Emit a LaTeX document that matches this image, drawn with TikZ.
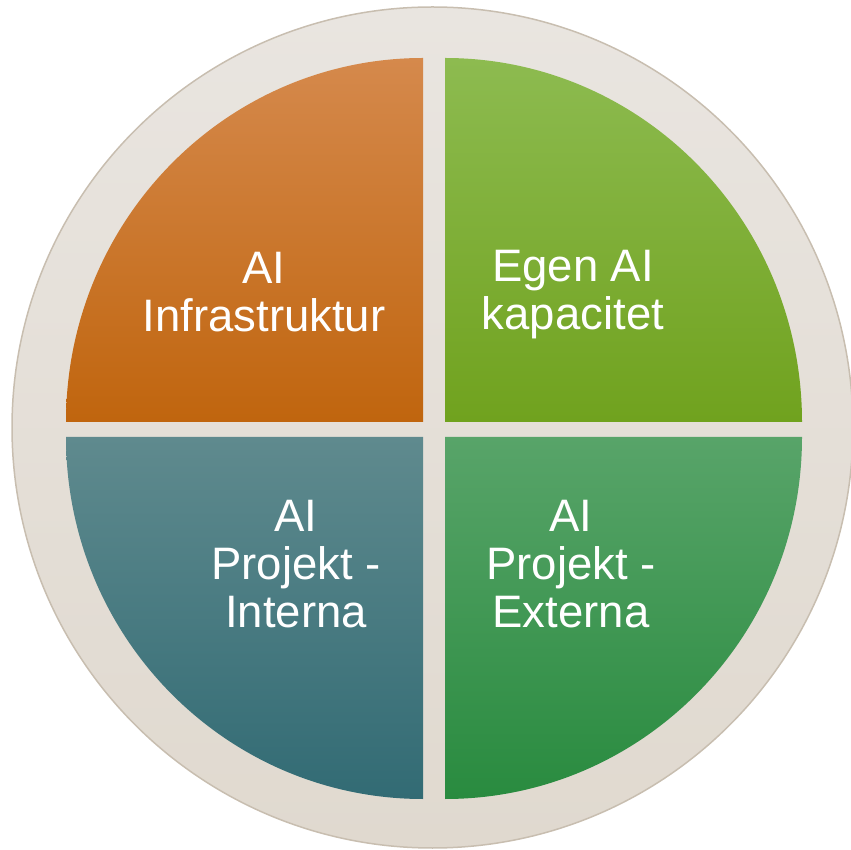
\documentclass[tikz,border=0pt]{standalone}
\usepackage{fontspec}
\setmainfont{Liberation Sans}
\usetikzlibrary{positioning}

\definecolor{ringtop}{RGB}{233,229,224}
\definecolor{ringbot}{RGB}{224,217,207}
\definecolor{ringline}{RGB}{200,190,176}
\definecolor{orangetop}{RGB}{213,137,76}
\definecolor{orangebot}{RGB}{192,101,14}
\definecolor{limetop}{RGB}{141,187,80}
\definecolor{limebot}{RGB}{112,162,30}
\definecolor{tealtop}{RGB}{95,138,142}
\definecolor{tealbot}{RGB}{50,107,116}
\definecolor{greentop}{RGB}{88,164,105}
\definecolor{greenbot}{RGB}{41,139,63}

\begin{document}
\begin{tikzpicture}[x=1pt,y=1pt,
    label/.style={text=white,align=center,anchor=base,
      font=\fontsize{45.5}{48.5}\selectfont}]
    \useasboundingbox (0,0) rectangle (851,849);
    %Hintergrund
    \shade[top color=ringtop,bottom color=ringbot,draw=ringline,line width=1.5pt]
      (432.5,421.5) circle[radius=420.5];
    %Viertel
    \shade[top color=orangetop,bottom color=orangebot]
      (423,427) -- (423,791) arc[start angle=90,end angle=180,x radius=357,y radius=364] -- cycle;
    \shade[top color=limetop,bottom color=limebot]
      (445,427) -- (802,427) arc[start angle=0,end angle=90,x radius=357,y radius=364] -- cycle;
    \shade[top color=tealtop,bottom color=tealbot]
      (423,412) -- (66,412) arc[start angle=180,end angle=270,x radius=357,y radius=362] -- cycle;
    \shade[top color=greentop,bottom color=greenbot]
      (445,412) -- (445,50) arc[start angle=270,end angle=360,x radius=357,y radius=362] -- cycle;
    %Texte (Grundlinie der letzten Zeile)
    \node[label] (infra) at (264,517) {AI\\Infrastruktur};
    \node[label] (egen) at (573,519) {Egen AI\\kapacitet};
    \node[label] (intern) at (296,221) {AI\\Projekt -\\Interna};
    \node[label] (extern) at (571,221) {AI\\Projekt -\\Externa};
\end{tikzpicture}
\end{document}
